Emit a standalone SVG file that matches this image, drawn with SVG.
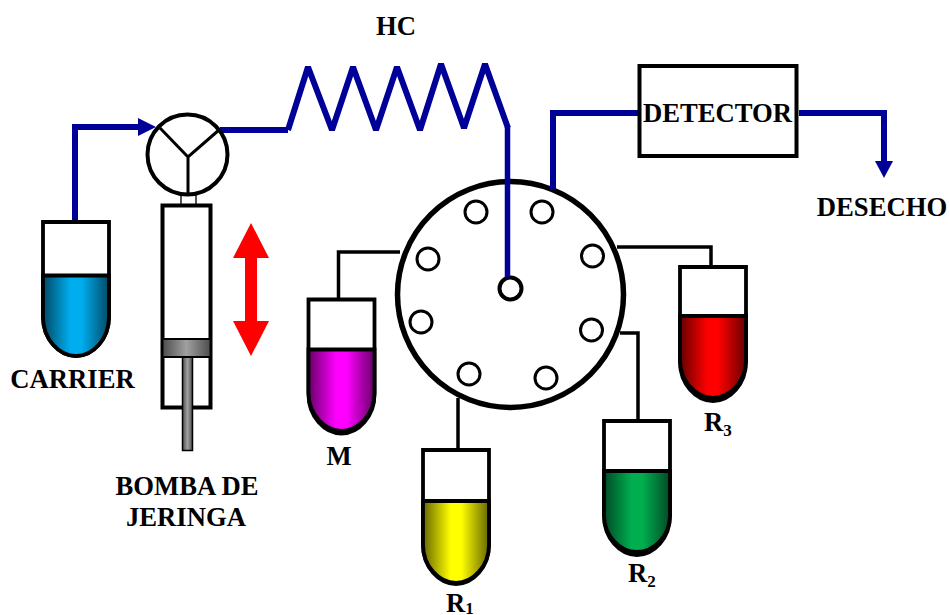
<svg xmlns="http://www.w3.org/2000/svg" width="950" height="615" viewBox="0 0 950 615">
<style>
text{font-family:"Liberation Serif","Times New Roman",serif;font-weight:bold;font-size:26.67px;fill:#000}
.sub{font-size:17px}
.blue{fill:none;stroke:#000099;stroke-width:6;stroke-linejoin:miter}
.wire{fill:none;stroke:#000;stroke-width:3.500}
.tube{fill:#fff;stroke:#000;stroke-width:3.800}
.port{fill:#fff;stroke:#000;stroke-width:3}
</style>
<defs>
<linearGradient id="gBlue"><stop offset="0" stop-color="#004a66"/><stop offset=".42" stop-color="#00aeef"/><stop offset=".58" stop-color="#00aeef"/><stop offset="1" stop-color="#004a66"/></linearGradient>
<linearGradient id="gMag"><stop offset="0" stop-color="#660066"/><stop offset=".42" stop-color="#ff00ff"/><stop offset=".58" stop-color="#ff00ff"/><stop offset="1" stop-color="#660066"/></linearGradient>
<linearGradient id="gYel"><stop offset="0" stop-color="#666600"/><stop offset=".42" stop-color="#ffff00"/><stop offset=".58" stop-color="#ffff00"/><stop offset="1" stop-color="#666600"/></linearGradient>
<linearGradient id="gGrn"><stop offset="0" stop-color="#004a24"/><stop offset=".42" stop-color="#00ae50"/><stop offset=".58" stop-color="#00ae50"/><stop offset="1" stop-color="#004a24"/></linearGradient>
<linearGradient id="gRed"><stop offset="0" stop-color="#660000"/><stop offset=".42" stop-color="#ff0000"/><stop offset=".58" stop-color="#ff0000"/><stop offset="1" stop-color="#660000"/></linearGradient>
<linearGradient id="gGray"><stop offset="0" stop-color="#4d4d4d"/><stop offset=".5" stop-color="#a0a0a0"/><stop offset="1" stop-color="#4d4d4d"/></linearGradient>
<path id="tubeBody" d="M0 0H66V95C66 117 50 134 33 134C16 134 0 117 0 95Z"/>
</defs>

<g id="connectors">
<path class="wire" d="M400 252H338.500V300"/>
<path class="wire" d="M617 247H711V267"/>
<path class="wire" d="M620 333H638V421"/>
<path class="wire" d="M458 398V450"/>
</g>

<g id="valve">
<circle cx="510.500" cy="294.500" r="113" fill="#fff" stroke="#000" stroke-width="5.500"/>
<circle class="port" cx="476" cy="212" r="11"/>
<circle class="port" cx="542" cy="212" r="11"/>
<circle class="port" cx="592.500" cy="256" r="11"/>
<circle class="port" cx="591.500" cy="330" r="11"/>
<circle class="port" cx="546" cy="378" r="11"/>
<circle class="port" cx="469" cy="374" r="11"/>
<circle class="port" cx="421" cy="322" r="11"/>
<circle class="port" cx="428" cy="259" r="11"/>
<circle cx="510.500" cy="288.500" r="11" fill="#fff" stroke="#000" stroke-width="4"/>
</g>

<g id="flow">
<path class="blue" d="M75 221V127H140"/>
<path fill="#000099" d="M138 118L156 127L138 136Z"/>
<path class="blue" d="M220 130H288"/>
<path fill="none" stroke="#000099" stroke-width="6" stroke-linejoin="bevel" d="M288 130L308 67L332 130L353 67L376 130L397 67L420 130L441 64L464 128L485 64L508 128"/>
<path fill="none" stroke="#000099" stroke-width="5.500" d="M507.500 127V277"/>
<path class="blue" d="M553 190V113H640"/>
<path class="blue" d="M799 113H884V163"/>
<path fill="#000099" d="M875 161H893L884 178Z"/>
</g>

<g id="carrier">
<use href="#tubeBody" x="43" y="222" class="tube"/>
<path fill="url(#gBlue)" stroke="#000" stroke-width="3.800" d="M43 275.500H109V317C109 339 93 356 76 356C59 356 43 339 43 317Z"/>
<text x="72.500" y="388" text-anchor="middle">CARRIER</text>
</g>

<g id="pump">
<rect x="181" y="194" width="15" height="11" fill="#fff" stroke="#555" stroke-width="2"/>
<rect x="162.500" y="205.500" width="48" height="202" fill="#fff" stroke="#000" stroke-width="4"/>
<rect x="182.500" y="357" width="10" height="93.500" fill="url(#gGray)" stroke="#000" stroke-width="1.500"/>
<rect x="162.500" y="339" width="48" height="18" fill="url(#gGray)" stroke="#000" stroke-width="2"/>
<circle cx="187.500" cy="154.500" r="40" fill="#fff" stroke="#000" stroke-width="4"/>
<path fill="none" stroke="#000" stroke-width="3" d="M160 128L188 157L219 130M188 157V194"/>
<text x="187" y="495" text-anchor="middle">BOMBA DE</text>
<text x="186" y="526" text-anchor="middle">JERINGA</text>
</g>

<path id="motion" fill="#ff0000" d="M251 223L269 258H257V321H269L251 356L233 321H245V258H233Z"/>

<g id="hc"><text x="396" y="35" text-anchor="middle">HC</text></g>

<g id="detector">
<rect x="639.500" y="66" width="157" height="90" fill="#fff" stroke="#000" stroke-width="4"/>
<text x="717.500" y="122" text-anchor="middle">DETECTOR</text>
</g>
<g id="waste"><text x="882" y="216" text-anchor="middle">DESECHO</text></g>

<g id="sample-m">
<use href="#tubeBody" x="308.500" y="299.500" class="tube"/>
<path fill="url(#gMag)" stroke="#000" stroke-width="3.800" d="M308.500 349.500H374.500V393C374.500 414 358.500 431 341.500 431C324.500 431 308.500 414 308.500 393Z"/>
<text x="339" y="465" text-anchor="middle">M</text>
</g>
<g id="sample-r1">
<use href="#tubeBody" x="423" y="450" class="tube"/>
<path fill="url(#gYel)" stroke="#000" stroke-width="3.800" d="M423 501H489V545C489 566 473 583 456 583C439 583 423 566 423 545Z"/>
<text x="446" y="612">R<tspan class="sub" dy="2">1</tspan></text>
</g>
<g id="sample-r2">
<use href="#tubeBody" x="604" y="421" class="tube"/>
<path fill="url(#gGrn)" stroke="#000" stroke-width="3.800" d="M604 471H670V515C670 536 654 552 637 552C620 552 604 536 604 515Z"/>
<text x="628" y="582">R<tspan class="sub" dy="5">2</tspan></text>
</g>
<g id="sample-r3">
<use href="#tubeBody" x="680" y="267" class="tube"/>
<path fill="url(#gRed)" stroke="#000" stroke-width="3.800" d="M680 316H746V360C746 381 730 398 713 398C696 398 680 381 680 360Z"/>
<text x="704" y="431">R<tspan class="sub" dy="5">3</tspan></text>
</g>
</svg>
